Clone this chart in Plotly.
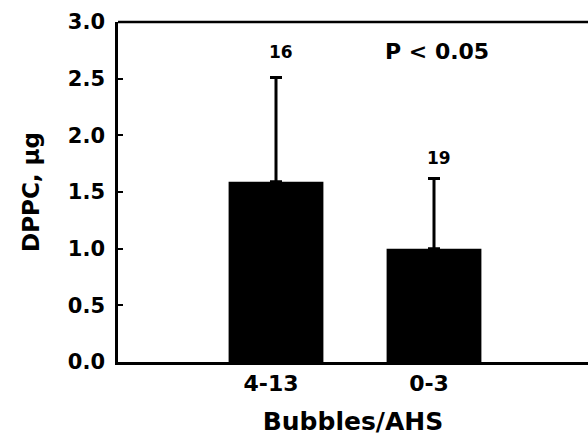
import plotly.graph_objects as go

categories = ["4-13", "0-3"]
means = [1.59, 1.0]
sd = [0.92, 0.62]
n_labels = ["16", "19"]
y_ticks = [0.0, 0.5, 1.0, 1.5, 2.0, 2.5, 3.0]
p_text = "P < 0.05"

FONT = "DejaVu Sans"
xpos = [1, 2]
label_shift = [26, 20]

fig = go.Figure()
fig.add_trace(go.Bar(
    x=xpos, y=means, width=0.6,
    marker=dict(color="black", line=dict(width=0)),
    error_y=dict(type="data", array=sd, arrayminus=[0, 0], symmetric=False,
                 color="black", thickness=3, width=6),
    showlegend=False, hoverinfo="skip",
))

for x, m, s, t, sh in zip(xpos, means, sd, n_labels, label_shift):
    fig.add_annotation(x=x, y=m + s, text="<b>%s</b>" % t, showarrow=False,
                       yshift=sh, xshift=5, font=dict(family=FONT, size=17, color="black"))

fig.add_annotation(x=2.02, y=2.736, text="<b>%s</b>" % p_text, showarrow=False,
                   font=dict(family=FONT, size=22, color="black"))

# top frame line (no right-hand border in the reference)
fig.add_shape(type="line", xref="paper", yref="paper", x0=0, x1=1, y0=1, y1=1,
              line=dict(color="black", width=2.5))

fig.update_layout(
    width=588, height=436,
    margin=dict(l=118, r=0, t=22, b=74),
    paper_bgcolor="white", plot_bgcolor="white",
    hovermode=False,
    xaxis=dict(
        range=[0, 470 / 158], tickmode="array", tickvals=xpos, ticktext=categories,
        showline=True, linecolor="black", linewidth=2.5, mirror=False,
        ticks="", showgrid=False, zeroline=False, ticklabelshift=-5,
        automargin=False,
        tickfont=dict(family=FONT, size=22, color="black", weight="bold"),
        title=dict(text="Bubbles/AHS", standoff=26,
                   font=dict(family=FONT, size=25, color="black", weight="bold")),
    ),
    yaxis=dict(
        range=[0, 3.0], tickvals=y_ticks, ticktext=["%.1f" % v for v in y_ticks],
        showline=True, linecolor="black", linewidth=2.5,
        ticks="inside", ticklen=5, tickwidth=1.5, tickcolor="black",
        ticklabelstandoff=6,
        showgrid=False, zeroline=False,
        tickfont=dict(family=FONT, size=21, color="black", weight="bold"),
        title=dict(text="DPPC, μg", standoff=22,
                   font=dict(family=FONT, size=23, color="black", weight="bold")),
    ),
)

fig.write_html(
    "out.html",
    config={"displayModeBar": False},
    post_script=("document.body.style.margin='0';"
                 "document.body.style.overflow='hidden';"
                 "document.documentElement.style.overflow='hidden';"),
)
